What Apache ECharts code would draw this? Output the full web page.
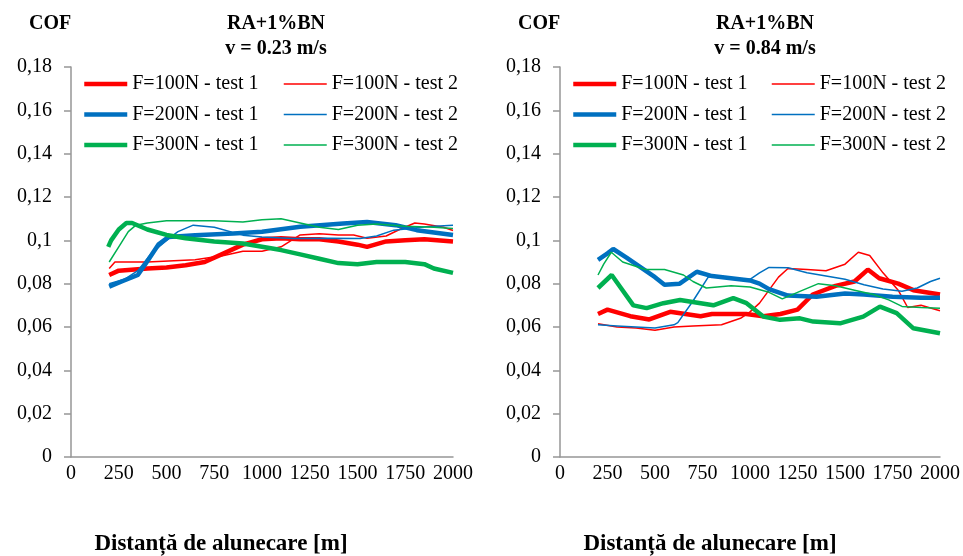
<!DOCTYPE html>
<meta charset="utf-8">
<style>
  html, body { margin: 0; padding: 0; background: #fff; }
  #chart { width: 963px; height: 556px; }
</style>
<body>
<div id="chart"></div>
<script src="https://cdn.jsdelivr.net/npm/echarts@6/dist/echarts.min.js"></script>
<script>

var names = ['F=100N - test 1', 'F=100N - test 2', 'F=200N - test 1',
             'F=200N - test 2', 'F=300N - test 1', 'F=300N - test 2'];
var colors = ['#ff0000', '#ff0000', '#0070c0', '#0070c0', '#00b050', '#00b050'];
var widths = [4.5, 1.5, 4.5, 1.5, 4.5, 1.5];
var xTicks = [0, 250, 500, 750, 1000, 1250, 1500, 1750, 2000];
var yTicks = [0, 0.02, 0.04, 0.06, 0.08, 0.1, 0.12, 0.14, 0.16, 0.18];

// v = 0.23 m/s  [distance m, COF]
var slowF100t1 = [[200,0.084],[250,0.086],[400,0.087],[500,0.0875],[600,0.0885],[700,0.090],[800,0.094],
  [900,0.098],[1000,0.1005],[1100,0.101],[1200,0.1005],[1300,0.1005],[1400,0.0995],[1500,0.098],
  [1550,0.097],[1650,0.0995],[1750,0.100],[1850,0.1005],[2000,0.0995]];
var slowF100t2 = [[200,0.087],[230,0.090],[400,0.090],[650,0.091],[800,0.093],[900,0.095],[1000,0.095],
  [1100,0.097],[1200,0.1025],[1300,0.103],[1400,0.1025],[1480,0.1025],[1550,0.101],[1650,0.102],
  [1720,0.105],[1800,0.108],[1850,0.1075],[1950,0.106],[2000,0.1045]];
var slowF200t1 = [[200,0.0786],[265,0.081],[350,0.084],[405,0.091],[457,0.098],[510,0.1015],[650,0.1024],
  [850,0.1032],[1000,0.104],[1200,0.1063],[1425,0.1078],[1550,0.1085],[1700,0.107],[1810,0.1047],[2000,0.1025]];
var slowF200t2 = [[200,0.080],[280,0.082],[350,0.086],[420,0.094],[500,0.100],[560,0.104],[640,0.107],
  [750,0.106],[900,0.1024],[1000,0.1015],[1164,0.1009],[1350,0.101],[1513,0.1009],[1600,0.102],
  [1690,0.1047],[1860,0.1063],[2000,0.107]];
var slowF300t1 = [[195,0.097],[210,0.100],[250,0.105],[290,0.108],[320,0.108],[400,0.105],[500,0.1025],
  [600,0.101],[750,0.0995],[900,0.0985],[1000,0.097],[1100,0.0955],[1200,0.0935],[1300,0.0915],
  [1400,0.0895],[1500,0.089],[1600,0.090],[1750,0.090],[1850,0.089],[1900,0.087],[2000,0.085]];
var slowF300t2 = [[200,0.090],[250,0.097],[300,0.104],[340,0.107],[400,0.108],[500,0.109],[750,0.109],
  [900,0.1085],[1000,0.1095],[1100,0.110],[1200,0.108],[1300,0.106],[1400,0.105],[1500,0.107],
  [1600,0.1075],[1750,0.1065],[1900,0.106],[2000,0.1055]];

// v = 0.84 m/s  [distance m, COF]
var fastF100t1 = [[200,0.066],[250,0.068],[370,0.065],[470,0.0635],[580,0.067],[740,0.065],[800,0.066],
  [980,0.066],[1070,0.065],[1160,0.066],[1250,0.068],[1330,0.075],[1450,0.079],[1550,0.081],
  [1620,0.0865],[1680,0.0825],[1780,0.080],[1860,0.077],[2000,0.075]];
var fastF100t2 = [[200,0.0615],[300,0.060],[400,0.0595],[500,0.0585],[600,0.060],[700,0.0605],[850,0.061],
  [950,0.064],[1000,0.067],[1050,0.071],[1150,0.083],[1200,0.087],[1300,0.0865],[1400,0.086],
  [1500,0.089],[1570,0.0945],[1630,0.093],[1700,0.085],[1780,0.077],[1830,0.069],[1900,0.070],[2000,0.0675]];
var fastF200t1 = [[200,0.091],[250,0.094],[280,0.096],[350,0.092],[450,0.086],[500,0.083],[550,0.0795],
  [630,0.080],[720,0.0855],[800,0.0835],[900,0.0825],[1000,0.0815],[1050,0.080],[1100,0.0775],
  [1200,0.0745],[1350,0.074],[1500,0.0755],[1600,0.075],[1750,0.074],[1900,0.0735],[2000,0.0735]];
var fastF200t2 = [[200,0.061],[300,0.0605],[400,0.060],[500,0.0595],[600,0.061],[620,0.062],[700,0.072],
  [780,0.083],[850,0.0835],[900,0.082],[1000,0.082],[1050,0.085],[1100,0.0875],[1200,0.0873],
  [1300,0.085],[1400,0.0835],[1500,0.082],[1600,0.0795],[1700,0.0775],[1800,0.0765],[1880,0.078],
  [1950,0.081],[2000,0.0825]];
var fastF300t1 = [[200,0.078],[272,0.084],[316,0.0786],[386,0.070],[456,0.0687],[544,0.071],[632,0.0725],
  [807,0.070],[912,0.0733],[982,0.071],[1070,0.0648],[1158,0.0633],[1263,0.064],[1333,0.0625],
  [1474,0.0617],[1596,0.0648],[1684,0.0694],[1772,0.0664],[1860,0.0594],[2000,0.0571]];
var fastF300t2 = [[200,0.084],[230,0.089],[270,0.0945],[330,0.090],[450,0.0865],[550,0.0865],[650,0.084],
  [700,0.081],[770,0.078],[900,0.079],[1000,0.0785],[1100,0.076],[1170,0.073],[1250,0.076],
  [1360,0.080],[1450,0.079],[1550,0.077],[1650,0.075],[1730,0.0725],[1800,0.0695],[1900,0.069],[2000,0.0687]];

var slowData = [slowF100t1, slowF100t2, slowF200t1, slowF200t2, slowF300t1, slowF300t2];
var fastData = [fastF100t1, fastF100t2, fastF200t1, fastF200t2, fastF300t1, fastF300t2];

var font = 'Liberation Serif';
var txt = { fontFamily: font, fontSize: 20, color: '#000' };
var bold = { fontFamily: font, fontSize: 20, color: '#000', fontWeight: 'bold', lineHeight: 25 };
var boldBig = { fontFamily: font, fontSize: 23, color: '#000', fontWeight: 'bold', lineHeight: 25 };

var myChart = echarts.init(document.getElementById('chart'), null, { renderer: 'canvas' });

function makeTitles(cofLeft, center, speed, xNameCenter) {
  return [
    { text: 'COF', left: cofLeft, top: 11, padding: 0, textStyle: bold },
    { text: 'RA+1%BN\nv = ' + speed + ' m/s', left: center, top: 11, padding: 0,
      textAlign: 'center', textStyle: bold },
    { text: 'Distanță de alunecare [m]', left: xNameCenter, top: 532, padding: 0,
      textAlign: 'center', textStyle: boldBig }
  ];
}

// two legend columns per chart: test 1 on the left, test 2 on the right
function makeLegends(col1, col2) {
  return [col1, col2].map(function (x, k) {
    return {
      orient: 'vertical', left: x, top: 74, padding: 0, itemGap: 10.5,
      itemWidth: 43, itemHeight: 14, textStyle: txt,
      data: [k, 2 + k, 4 + k].map(function (i) {
        return {
          name: names[i],
          itemStyle: { opacity: 0 },
          lineStyle: { color: colors[i], width: widths[i] }
        };
      })
    };
  });
}

var grids = [
  { left: 71, top: 67, width: 382, height: 390 },
  { left: 560, top: 67, width: 380, height: 390 }
];

var xAxes = grids.map(function (g, i) {
  return {
    type: 'value', gridIndex: i, min: xTicks[0], max: xTicks[xTicks.length - 1],
    interval: xTicks[1] - xTicks[0],
    axisLine: { lineStyle: { color: '#969696', width: 1.5 } },
    axisTick: { show: false },
    splitLine: { show: false },
    axisLabel: Object.assign({
      margin: 7,
      formatter: function (v) { return String(v); }
    }, txt)
  };
});

var yAxes = grids.map(function (g, i) {
  return {
    type: 'value', gridIndex: i, min: yTicks[0], max: yTicks[yTicks.length - 1],
    interval: yTicks[1] - yTicks[0],
    axisLine: { show: true, lineStyle: { color: '#969696', width: 1.5 } },
    axisTick: { show: true, length: 7, lineStyle: { color: '#969696', width: 1.5 } },
    splitLine: { show: false },
    axisLabel: Object.assign({
      margin: 19,
      formatter: function (v) { return String(+v.toFixed(2)).replace('.', ','); }
    }, txt)
  };
});

var series = [];
[slowData, fastData].forEach(function (set, gi) {
  set.forEach(function (d, k) {
    series.push({
      name: names[k], type: 'line', xAxisIndex: gi, yAxisIndex: gi,
      data: d, symbol: 'none', showSymbol: false,
      color: colors[k],
      lineStyle: { color: colors[k], width: widths[k] }
    });
  });
});

var option = {
  backgroundColor: '#fff',
  animation: false,
  title: makeTitles(29, 276, '0.23', 221).concat(makeTitles(518, 765, '0.84', 710)),
  legend: makeLegends(82, 283).concat(makeLegends(571, 771)),
  grid: grids,
  xAxis: xAxes,
  yAxis: yAxes,
  series: series
};

myChart.setOption(option);
window.addEventListener('resize', myChart.resize);
</script>
</body>
